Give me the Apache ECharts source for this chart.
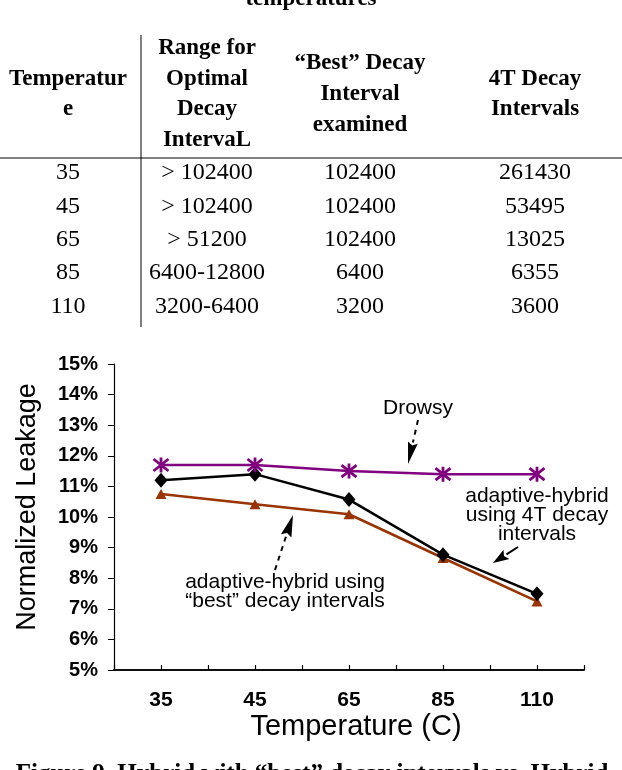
<!DOCTYPE html>
<html>
<head>
<meta charset="utf-8">
<script src="https://cdn.jsdelivr.net/npm/echarts@6/dist/echarts.min.js"></script>
<style>html,body{margin:0;padding:0;background:#fff;}#c{width:622px;height:770px;}</style>
</head>
<body>
<div id="c"></div>
<script>
// ---- data ----
var categories = ['35', '45', '65', '85', '110'];
var drowsy = [0.117, 0.117, 0.115, 0.114, 0.114];
var hybrid4T = [0.112, 0.114, 0.1057, 0.0877, 0.0749];
var hybridBest = [0.1075, 0.1042, 0.1009, 0.0866, 0.0724];
var yTicks = ['5%', '6%', '7%', '8%', '9%', '10%', '11%', '12%', '13%', '14%', '15%'];

var tableTitle = 'temperatures';
var tableHeaders = ['Temperatur\ne', 'Range for\nOptimal\nDecay\nIntervaL', '\u201cBest\u201d Decay\nInterval\nexamined', '4T Decay\nIntervals'];
var colTemp = ['35', '45', '65', '85', '110'];
var colRange = ['> 102400', '> 102400', '> 51200', '6400-12800', '3200-6400'];
var colBest = ['102400', '102400', '102400', '6400', '3200'];
var col4T = ['261430', '53495', '13025', '6355', '3600'];
var caption = 'Figure 9. Hybrid with \u201cbest\u201d decay intervals vs. Hybrid';

var labelDrowsy = 'Drowsy';
var label4T = 'adaptive-hybrid\nusing 4T decay\nintervals';
var labelBest = 'adaptive-hybrid using\n\u201cbest\u201d decay intervals';

// ---- layout ----
var serif = '"Liberation Serif", "DejaVu Serif", serif';
var sans = '"Liberation Sans", Arial, sans-serif';
var colX = [68, 207, 360, 535];
var rowY = [173, 207, 240, 273, 307];

var graphics = [];
graphics.push({type: 'text', style: {text: tableTitle, x: 311, y: 11, textAlign: 'center', textVerticalAlign: 'bottom', font: 'bold 23px ' + serif, fill: '#000'}});
tableHeaders.forEach(function (h, i) {
  graphics.push({type: 'text', style: {text: h, x: colX[i], y: 94, textAlign: 'center', textVerticalAlign: 'middle', font: 'bold 23px ' + serif, lineHeight: 30.6, fill: '#000'}});
});
[colTemp, colRange, colBest, col4T].forEach(function (col, i) {
  col.forEach(function (v, r) {
    graphics.push({type: 'text', style: {text: v, x: colX[i], y: rowY[r], textAlign: 'center', textVerticalAlign: 'middle', font: '24px ' + serif, fill: '#000'}});
  });
});
graphics.push({type: 'line', shape: {x1: 0, y1: 158, x2: 622, y2: 158}, style: {stroke: '#000', lineWidth: 1.2}});
graphics.push({type: 'line', shape: {x1: 141, y1: 35, x2: 141, y2: 327}, style: {stroke: '#000', lineWidth: 1}});
graphics.push({type: 'text', style: {text: caption, x: 312, y: 762, textAlign: 'center', textVerticalAlign: 'top', font: 'bold 25px ' + serif, fill: '#000'}});

// axis names
graphics.push({type: 'text', style: {text: 'Temperature (C)', x: 356, y: 727, textAlign: 'center', textVerticalAlign: 'middle', font: '29px ' + sans, fill: '#000'}});
graphics.push({type: 'text', rotation: Math.PI / 2, x: 28, y: 507, style: {text: 'Normalized Leakage', x: 0, y: 0, textAlign: 'center', textVerticalAlign: 'middle', font: '27px ' + sans, fill: '#000'}});

// annotations
graphics.push({type: 'text', style: {text: labelDrowsy, x: 418, y: 408, textAlign: 'center', textVerticalAlign: 'middle', font: '21px ' + sans, fill: '#000'}});
graphics.push({type: 'text', style: {text: label4T, x: 537, y: 515, textAlign: 'center', textVerticalAlign: 'middle', font: '21px ' + sans, lineHeight: 19, fill: '#000'}});
graphics.push({type: 'text', style: {text: labelBest, x: 285, y: 592, textAlign: 'center', textVerticalAlign: 'middle', font: '21px ' + sans, lineHeight: 19, fill: '#000'}});

function arrow(x1, y1, x2, y2, headLen, headW, dashed) {
  var dx = x2 - x1, dy = y2 - y1, L = Math.sqrt(dx * dx + dy * dy);
  var ux = dx / L, uy = dy / L;
  var bx = x2 - ux * headLen, by = y2 - uy * headLen;
  graphics.push({type: 'line', shape: {x1: x1, y1: y1, x2: bx, y2: by}, style: {stroke: '#000', lineWidth: 2, lineDash: dashed ? [5, 5] : null}});
  graphics.push({type: 'polygon', shape: {points: [[x2, y2], [bx - uy * headW / 2, by + ux * headW / 2], [bx + ux * 3, by + uy * 3], [bx + uy * headW / 2, by - ux * headW / 2]]}, style: {fill: '#000'}});
}
arrow(418, 420, 408, 464, 22, 10, true);
arrow(275, 570, 293, 515, 22, 11, true);
arrow(518, 547, 493, 563, 16, 11, false);

var chart = echarts.init(document.getElementById('c'));
chart.setOption({
  animation: false,
  backgroundColor: '#fff',
  grid: {left: 114, right: 38, top: 364, bottom: 100, containLabel: false},
  xAxis: [{
    type: 'category', data: categories, boundaryGap: true,
    axisLine: {show: true, lineStyle: {color: '#000', width: 1.5}},
    axisTick: {show: true, inside: true, length: 5, alignWithLabel: false, lineStyle: {color: '#000', width: 1.2}},
    axisLabel: {color: '#000', fontFamily: sans, fontWeight: 'bold', fontSize: 21, margin: 20},
    splitLine: {show: false}
  }, {
    type: 'category', data: categories, boundaryGap: true, position: 'bottom',
    axisLine: {show: true, lineStyle: {color: '#000', width: 1.5}},
    axisTick: {show: true, inside: true, length: 5, alignWithLabel: true, lineStyle: {color: '#000', width: 1.2}},
    axisLabel: {show: false},
    splitLine: {show: false}
  }],
  yAxis: {
    type: 'value', min: 0.05, max: 0.15, interval: 0.01,
    axisLine: {show: true, lineStyle: {color: '#000', width: 1.2}},
    axisTick: {show: true, length: 6, lineStyle: {color: '#000'}},
    axisLabel: {color: '#000', fontFamily: sans, fontWeight: 'bold', fontSize: 20, margin: 16,
      formatter: function (v) { return yTicks[Math.round((v - 0.05) * 100)]; }},
    splitLine: {show: false}
  },
  series: [{
    name: 'best', type: 'line', data: hybridBest,
    symbol: 'triangle', symbolSize: [11, 10],
    lineStyle: {color: '#993300', width: 2.5},
    itemStyle: {color: '#993300'}
  }, {
    name: '4T', type: 'line', data: hybrid4T,
    symbol: 'diamond', symbolSize: [13, 15],
    lineStyle: {color: '#000', width: 2.5},
    itemStyle: {color: '#000'}
  }, {
    name: 'Drowsy', type: 'line', data: drowsy,
    symbol: 'path://M0,-1L0,1M-0.9,-0.8L0.9,0.8M-0.9,0.8L0.9,-0.8', symbolSize: 15,
    lineStyle: {color: '#800080', width: 2.5},
    itemStyle: {color: '#800080', borderColor: '#800080', borderWidth: 2.8}
  }],
  graphic: graphics
});
</script>
</body>
</html>
